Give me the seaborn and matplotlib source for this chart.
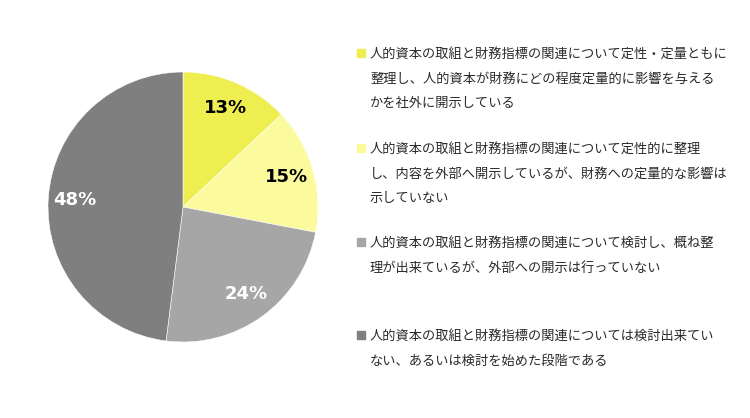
import numpy as np
import pandas as pd
import seaborn as sns
import matplotlib.pyplot as plt

# chart data
shares = [13, 15, 24, 48]
slice_colors = ["#eeee50", "#fbfa9c", "#a6a6a6", "#7f7f7f"]
pct_colors = ["black", "black", "white", "white"]
labels = [
    "人的資本の取組と財務指標の関連について定性・定量ともに\n整理し、人的資本が財務にどの程度定量的に影響を与える\nかを社外に開示している",
    "人的資本の取組と財務指標の関連について定性的に整理\nし、内容を外部へ開示しているが、財務への定量的な影響は\n示していない",
    "人的資本の取組と財務指標の関連について検討し、概ね整\n理が出来ているが、外部への開示は行っていない",
    "人的資本の取組と財務指標の関連については検討出来てい\nない、あるいは検討を始めた段階である",
]

df = pd.DataFrame({"label": labels, "share": shares})

sns.set_theme(style="white")
plt.rcParams['font.family'] = ['Noto Sans CJK JP', 'DejaVu Sans']

W, H = 750, 418
fig = plt.figure(figsize=(W / 100, H / 100), dpi=100)

# pie axes: centre (183, 207) px, radius 135 px
cx, cy, r = 183, 207, 135
ax = fig.add_axes([(cx - r) / W, (H - cy - r) / H, 2 * r / W, 2 * r / H])
wedges, texts, autotexts = ax.pie(
    df["share"], colors=slice_colors, startangle=90, counterclock=False,
    autopct="%d%%", pctdistance=0.8,
    wedgeprops=dict(linewidth=0.4, edgecolor="white"),
)
for t, c in zip(autotexts, pct_colors):
    t.set_color(c)
    t.set_fontsize(13)
    t.set_fontweight("bold")
    t.set_family("DejaVu Sans")
ax.set_xlim(-1, 1)
ax.set_ylim(-1, 1)
ax.set_aspect("equal")
ax.axis("off")

# legend drawn by hand, one slot per item (y = centre of first line, px)
item_y = [53, 148, 242, 335]
for lab, col, y in zip(df["label"], slice_colors, item_y):
    fig.patches.append(plt.Rectangle((357 / W, (H - y - 4) / H), 8 / W, 8 / H,
                                     transform=fig.transFigure, color=col))
    fig.text(370 / W, (H - y + 5) / H, lab, fontsize=9.5, color="#2a2a2a",
             va="top", ha="left", linespacing=2.16)

fig.savefig("out.png", dpi=100)
